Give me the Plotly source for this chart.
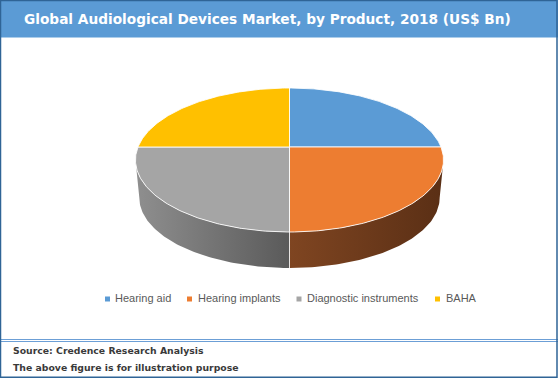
import numpy as np
import plotly.graph_objects as go

W, H = 558, 378

# ---- data ----
products = ["Hearing aid", "Hearing implants", "Diagnostic instruments", "BAHA"]
values = [25, 25, 25, 25]
top_colors = ["#5B9BD5", "#ED7D31", "#A5A5A5", "#FFC000"]
side_colors = [("#3f74a6", "#2c5a85"), ("#7f4521", "#5a2f15"), ("#8f8f8f", "#5a5a5a"), ("#b38600", "#8a6800")]

title = "Global Audiological Devices Market, by Product, 2018 (US$ Bn)"
source_lines = ["Source: Credence Research Analysis", "The above figure is for illustration purpose"]

# ---- pie geometry (pixel space, perspective projection) ----
CX, CY = 289.5, 147.0
A, B, K = 151.5, 69.65, 0.1806
A2, B2 = A * 0.975, B * 0.975
CY2 = 268.0 - B2 / (1 - K)


def rim(theta_deg, a, b, cy):
    t = np.radians(theta_deg)
    u, v = np.sin(t), np.cos(t)
    w = 1 + K * v
    return CX + a * u / w, cy - b * v / w


fig = go.Figure()

total = sum(values)
bounds = np.concatenate([[0], np.cumsum(values) / total * 360.0])
thR = np.degrees(np.arccos(-K))
thL = 360 - thR

# sides
for i in range(len(values)):
    a, b = bounds[i], bounds[i + 1]
    lo, hi = max(a, thR), min(b, thL)
    if lo >= hi:
        continue
    th = np.linspace(lo, hi, 80)
    xt, yt = rim(th, A, B, CY)
    xb, yb = rim(th[::-1], A2, B2, CY2)
    xs = np.concatenate([xt, xb, xt[:1]])
    ys = np.concatenate([yt, yb, yt[:1]])
    fig.add_trace(go.Scatter(
        x=xs, y=ys, mode="lines", fill="toself", line=dict(width=0),
        fillgradient=dict(type="horizontal",
                          colorscale=[[0, side_colors[i][0]], [1, side_colors[i][1]]]),
        hoverinfo="skip", showlegend=False))

# separators on side
for bd in bounds[1:-1]:
    if thR < bd < thL:
        x1, y1 = rim(bd, A, B, CY)
        x2, y2 = rim(bd, A2, B2, CY2)
        fig.add_trace(go.Scatter(x=[x1, x2], y=[y1, y2], mode="lines",
                                 line=dict(color="rgba(255,255,255,0.8)", width=1),
                                 hoverinfo="skip", showlegend=False))

# top faces
for i in range(len(values)):
    a, b = bounds[i], bounds[i + 1]
    th = np.linspace(a, b, 120)
    xt, yt = rim(th, A, B, CY)
    xs = np.concatenate([[CX], xt, [CX]])
    ys = np.concatenate([[CY], yt, [CY]])
    fig.add_trace(go.Scatter(
        x=xs, y=ys, mode="lines", fill="toself", fillcolor=top_colors[i],
        line=dict(color="rgba(255,255,255,0.85)", width=1),
        name=products[i], hoverinfo="name", showlegend=False))

# ---- frame & decorations ----
shapes = [
    dict(type="rect", x0=0, y0=0, x1=W, y1=37.5, fillcolor="#5B9BD5", line=dict(width=0), layer="below"),
    dict(type="line", x0=0, y0=339.5, x1=W, y1=339.5, line=dict(color="#6C9FD6", width=1)),
    dict(type="line", x0=0, y0=341.5, x1=W, y1=341.5, line=dict(color="#6C9FD6", width=1)),
    dict(type="rect", x0=0.5, y0=0.5, x1=W - 1, y1=H - 0.8, fillcolor="rgba(0,0,0,0)",
         line=dict(color="#2F6496", width=1.5)),
]

legend_sq_x = [107.5, 189.5, 299, 437.5]
legend_tx_x = [112.5, 195.5, 304.5, 443.5]
legend_y = 299
for i, p in enumerate(products):
    shapes.append(dict(type="rect", x0=legend_sq_x[i] - 2.5, x1=legend_sq_x[i] + 2.5,
                       y0=legend_y - 2.5, y1=legend_y + 2.5,
                       fillcolor=top_colors[i], line=dict(width=0)))

annotations = [
    dict(x=267, y=18.5, text="<b>" + title + "</b>", showarrow=False, xanchor="center", yanchor="middle",
         font=dict(family="DejaVu Sans", size=13.7, color="white"), xref="x", yref="y"),
]
for i, p in enumerate(products):
    annotations.append(dict(x=legend_tx_x[i], y=legend_y - 1, text=p, showarrow=False,
                            xanchor="left", yanchor="middle", xref="x", yref="y",
                            font=dict(family="Liberation Sans", size=11, color="#595959")))
for j, s in enumerate(source_lines):
    annotations.append(dict(x=11, y=350 + 17 * j, text="<b>" + s + "</b>", showarrow=False,
                            xanchor="left", yanchor="middle", xref="x", yref="y",
                            font=dict(family="DejaVu Sans", size=9.3, color="#3A3A3A")))

fig.update_layout(
    width=W, height=H, margin=dict(l=0, r=0, t=0, b=0),
    paper_bgcolor="white", plot_bgcolor="white",
    xaxis=dict(range=[0, W], visible=False, fixedrange=True),
    yaxis=dict(range=[H, 0], visible=False, fixedrange=True),
    shapes=shapes, annotations=annotations, showlegend=False,
)

fig.write_html("out.html", config={"displayModeBar": False},
               post_script="document.body.style.margin='0px';document.body.style.overflow='hidden';")
